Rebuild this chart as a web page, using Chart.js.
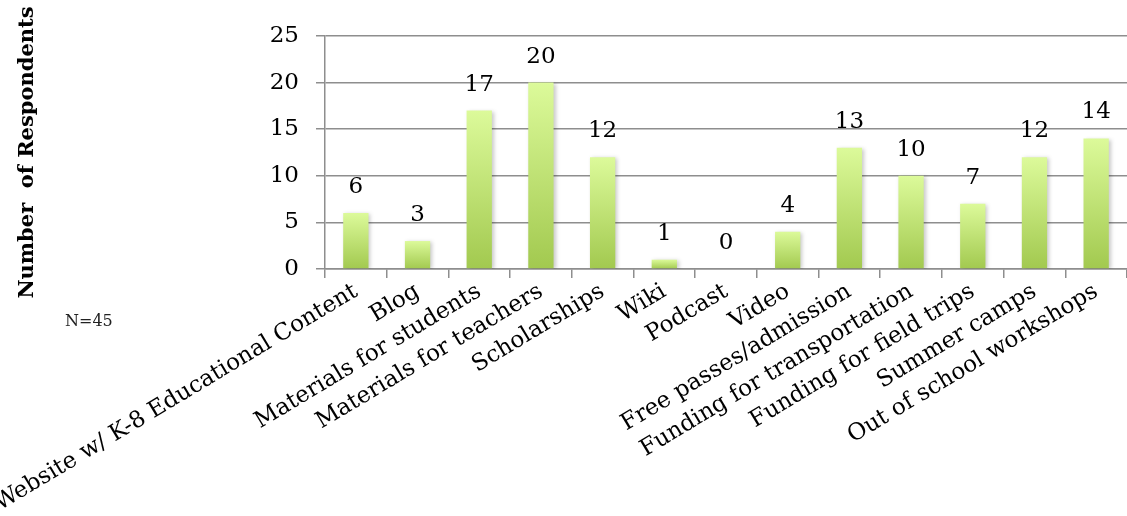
<!DOCTYPE html>
<html>
<head>
<meta charset="utf-8">
<script src="https://cdn.jsdelivr.net/npm/chart.js@4/dist/chart.umd.min.js"></script>
<style>
  html, body { margin: 0; padding: 0; background: #fff; }
  #wrap { position: relative; width: 1127px; height: 516px; }
  #note { position: absolute; left: 65px; top: 311px; font: 16px "DejaVu Serif", serif; color: #222; }
</style>
</head>
<body>
<div id="wrap">
  <canvas id="surveyChart" width="1127" height="516"></canvas>
  <div id="note">N=45</div>
</div>
<script>
// survey answers
const categories = [
    'Website w/ K-8 Educational Content', 'Blog', 'Materials for students',
    'Materials for teachers', 'Scholarships', 'Wiki', 'Podcast', 'Video',
    'Free passes/admission', 'Funding for transportation', 'Funding for field trips',
    'Summer camps', 'Out of school workshops'
];
const respondents = [6, 3, 17, 20, 12, 1, 0, 4, 13, 10, 7, 12, 14];
const yTicks = [0, 5, 10, 15, 20, 25];

const serif = '"DejaVu Serif", serif';
const gridGrey = '#8e8e8e';

// green fade, one per bar, from the bar top down to zero
function barFill(context) {
    const chart = context.chart;
    const y = chart.scales.y;
    if (!chart.chartArea || !y || !context.parsed) return '#b8dc70';
    const top = y.getPixelForValue(context.parsed.y);
    const bottom = y.getPixelForValue(0);
    if (!isFinite(top) || !isFinite(bottom) || bottom - top < 1) return '#b8dc70';
    const g = chart.ctx.createLinearGradient(0, top, 0, bottom);
    g.addColorStop(0, '#dcfa9a');
    g.addColorStop(1, '#a2c94f');
    return g;
}

// soft shadow behind the bars
const barShadow = {
    id: 'barShadow',
    beforeDatasetsDraw(chart) {
        const ctx = chart.ctx;
        ctx.save();
        ctx.shadowColor = 'rgba(0,0,0,0.22)';
        ctx.shadowBlur = 4;
        ctx.shadowOffsetX = 2;
        ctx.shadowOffsetY = 1;
    },
    afterDatasetsDraw(chart) {
        chart.ctx.restore();
    }
};

// value written above each bar
const valueLabels = {
    id: 'valueLabels',
    afterDatasetsDraw(chart) {
        const ctx = chart.ctx;
        const meta = chart.getDatasetMeta(0);
        ctx.save();
        ctx.font = '23px ' + serif;
        ctx.fillStyle = '#000';
        ctx.textAlign = 'center';
        ctx.textBaseline = 'middle';
        meta.data.forEach(function(bar, i) {
            ctx.fillText(String(respondents[i]), bar.x, bar.y - 26);
        });
        ctx.restore();
    }
};

new Chart(document.getElementById('surveyChart').getContext('2d'), {
    type: 'bar',
    data: {
        labels: categories,
        datasets: [{
            label: 'Number of Respondents',
            data: respondents,
            backgroundColor: barFill,
            borderWidth: 0,
            barPercentage: 0.41,
            categoryPercentage: 1
        }]
    },
    options: {
        responsive: false,
        animation: false,
        layout: { padding: { top: 36, right: 0, left: 0, bottom: 0 } },
        plugins: {
            legend: { display: false },
            tooltip: { enabled: false }
        },
        scales: {
            x: {
                offset: true,
                afterFit: function(scale) {
                    scale.height = 247;
                    // long first label may run off the left edge, like the original
                    scale.paddingLeft = 0;
                    scale.paddingRight = 0;
                },
                grid: {
                    offset: true,
                    drawOnChartArea: false,
                    color: gridGrey,
                    lineWidth: 1.5,
                    tickLength: 9
                },
                border: { color: gridGrey, width: 1.5 },
                ticks: {
                    autoSkip: false,
                    minRotation: 31,
                    maxRotation: 31,
                    padding: 0,
                    color: '#000',
                    font: { family: serif, size: 23 }
                }
            },
            y: {
                min: 0,
                max: 25,
                afterBuildTicks: function(scale) {
                    scale.ticks = yTicks.map(v => ({ value: v }));
                },
                afterFit: function(scale) {
                    scale.width = 325;
                },
                grid: { color: gridGrey, lineWidth: 1.5, tickLength: 9 },
                border: { color: gridGrey, width: 1.5 },
                ticks: {
                    padding: 17,
                    color: '#000',
                    font: { family: serif, size: 23 }
                },
                title: {
                    display: true,
                    text: 'Number  of Respondents',
                    color: '#000',
                    font: { family: serif, size: 21, weight: 'bold' },
                    padding: { top: 15, bottom: 0 }
                }
            }
        }
    },
    plugins: [barShadow, valueLabels]
});
</script>
</body>
</html>
